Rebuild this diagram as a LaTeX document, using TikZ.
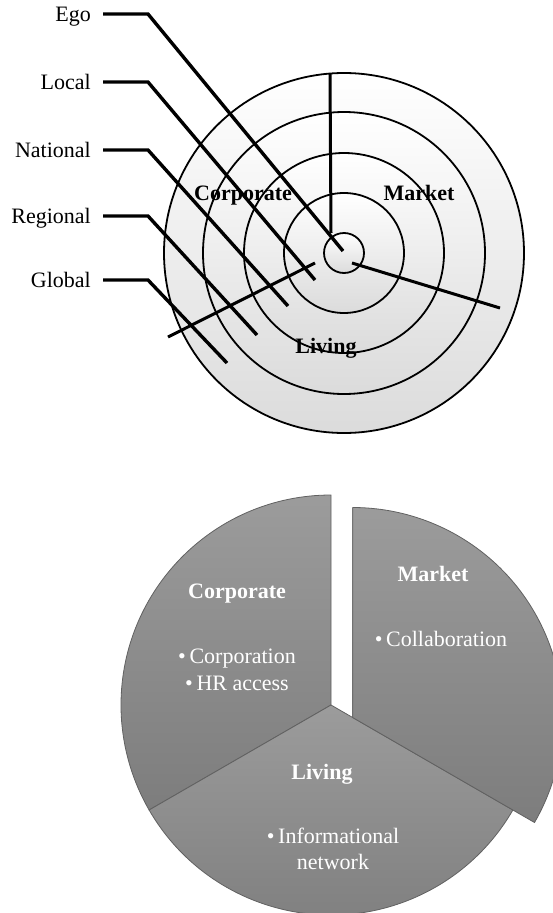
\documentclass[tikz,border=0pt]{standalone}
\usepackage{fontspec}
\setmainfont{Liberation Serif}
\usetikzlibrary{calc,positioning}

\newcommand{\picfont}{\fontsize{22}{26.5}\selectfont}

\tikzset{
  ring/.style={draw=black, line width=1.8pt, top color=white, bottom color=black!14},
  spoke/.style={draw=black, line width=3pt},
  leader/.style={draw=black, line width=3.4pt},
  levellabel/.style={anchor=east, inner sep=0pt, text height=15pt, text depth=0pt},
  ringtitle/.style={anchor=base, inner sep=0pt, font=\picfont\bfseries},
  sector/.style={draw=black!62, line width=0.8pt, top color=black!39, bottom color=black!51},
  sectortitle/.style={anchor=base, inner sep=0pt, font=\picfont\bfseries, text=white},
  sectoritem/.style={inner sep=0pt, text=white, align=center}
}

\begin{document}
\begin{tikzpicture}[x=1pt, y=-1pt, font=\picfont]
\useasboundingbox (0,0) rectangle (553,913);

% Draw the five rings from the outside in
\coordinate (ctr) at (344,253);
\foreach \r in {180,141,100,60,20} {
    \path[ring] (ctr) circle[radius=\r];
}

% Names of the three spheres
\node[ringtitle] (corpT) at (243,200) {Corporate};
\node[ringtitle] (markT) at (419,200) {Market};
\node[ringtitle] (livT) at (326,353) {Living};

% Spokes splitting the rings
\draw[spoke] (330,74) -- (331,233);
\draw[spoke] (352,263) -- (500,308);
\draw[spoke] (315,263) -- (168,337);

% Level labels with their leader lines
\foreach \name/\txt/\y/\ex/\ey in {ego/Ego/14/343/251, local/Local/82/315/280, national/National/150/288/306, regional/Regional/216/257/335, global/Global/280/227/363} {
    \node[levellabel] (\name) at (91,\y) {\txt};
    \coordinate (\name end) at (\ex,\ey);
    \draw[leader] ([xshift=12pt]\name.east) -- ++(45,0) -- (\name end);
}

% Pie below, market slice pulled out
\coordinate (pc) at (331,705);
\coordinate (pm) at ($(pc)+(30:25)$);
\path[sector] (pc) -- ++(-90:210) arc[start angle=-90, end angle=-210, radius=210] -- cycle;
\path[sector] (pc) -- ++(150:210) arc[start angle=150, end angle=30, radius=210] -- cycle;
\path[sector] (pm) -- ++(30:210) arc[start angle=30, end angle=-90, radius=210] -- cycle;

\node[sectortitle] (corpP) at (237,598) {Corporate};
\node[sectoritem] (corpL) at (237,670) {\textbullet\,Corporation\\\textbullet\,HR access};
\node[sectortitle] (markP) at (433,581) {Market};
\node[sectoritem, anchor=base] (markL) at (441,646) {\textbullet\,Collaboration};
\node[sectortitle] (livP) at (322,779) {Living};
\node[sectoritem] (livL) at (333,849) {\textbullet\,Informational\\network};

\end{tikzpicture}
\end{document}
